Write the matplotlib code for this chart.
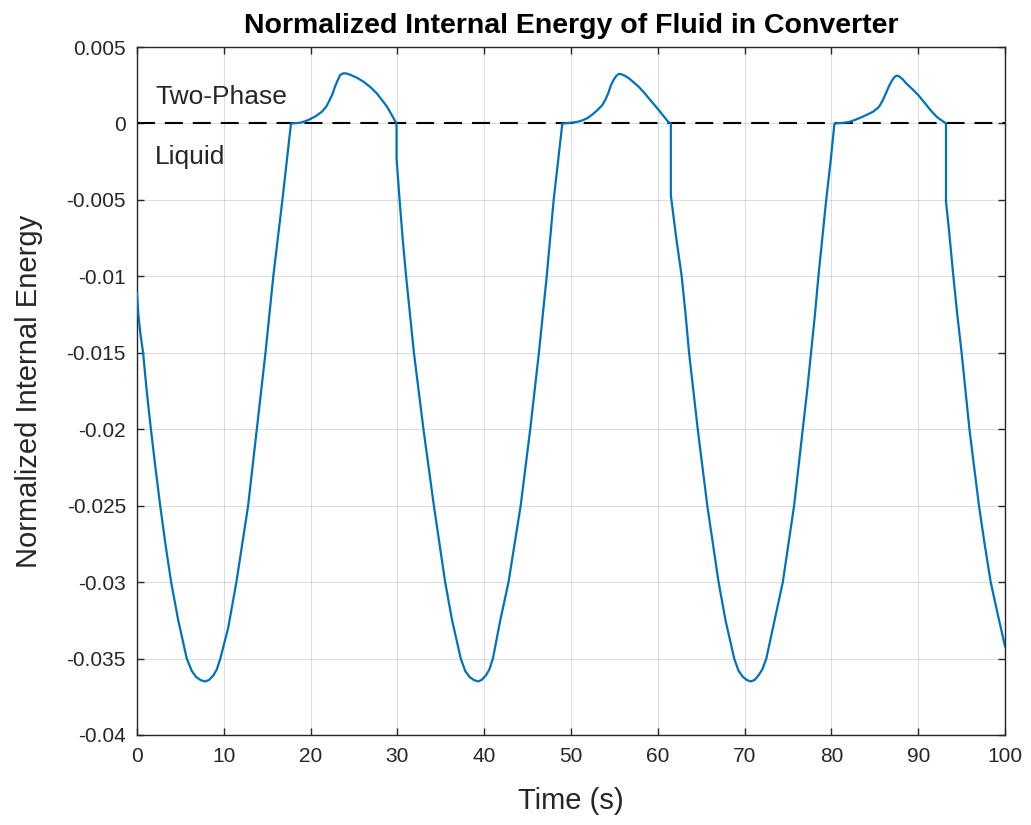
import matplotlib
matplotlib.use('Agg')
from matplotlib import pyplot as plt

plt.rcParams['font.family'] = ['Liberation Sans', 'DejaVu Sans']

# --------------- values ---------------

# time (s), written phase by phase
time_s = [
    # liquid, first cycle
    0.0, 0.15, 0.4, 0.7, 1.1, 1.6, 2.1, 2.67, 3.27, 3.93, 4.75, 5.73, 6.3, 6.8,
    7.3, 7.82, 8.3, 8.8, 9.2, 9.6, 10.5, 11.45, 12.1, 12.8, 13.3, 13.8, 14.8,
    15.7, 16.75,
    # two-phase
    17.74, 18.3, 18.8, 19.4, 19.9, 20.6, 21.3, 21.8, 22.2, 22.5, 22.8, 23.1,
    23.4, 23.7, 23.96, 24.2, 24.5, 25.3, 26.1, 26.9, 27.6, 28.2, 28.8, 29.3,
    29.9,
    # liquid, second cycle
    29.9, 30.25, 30.6, 31.0, 31.45, 31.9, 32.45, 33.0, 33.6, 34.2, 34.85, 35.5,
    36.3, 37.3, 37.8, 38.3, 38.8, 39.27, 39.7, 40.2, 40.6, 41.0, 41.85, 42.8,
    43.5, 44.2, 44.75, 45.3, 45.8, 46.3, 46.75, 47.2, 47.6, 48.0, 48.5,
    # two-phase
    49.0, 49.6, 50.0, 50.7, 51.3, 51.9, 52.4, 53.0, 53.6, 54.0, 54.3, 54.6,
    54.9, 55.2, 55.5, 55.8, 56.2, 56.65, 57.2, 57.8, 58.4, 58.96, 59.5, 60.1,
    60.7, 61.2, 61.5,
    # liquid, third cycle
    61.5, 62.1, 62.75, 63.2, 63.6, 64.1, 64.6, 65.15, 65.7, 66.35, 67.0, 67.8,
    68.8, 69.3, 69.8, 70.25, 70.7, 71.15, 71.6, 72.05, 72.5, 73.45, 74.4, 75.05,
    75.7, 76.2, 76.7, 77.2, 77.65, 78.1, 78.5, 78.95, 79.4, 79.9,
    # two-phase
    80.35, 81.2, 82.05, 82.8, 83.6, 84.2, 84.8, 85.2, 85.5, 85.9, 86.3, 86.6,
    86.9, 87.2, 87.5, 87.8, 88.2, 88.6, 89.3, 90.0, 90.7, 91.4, 92.2, 93.2,
    # liquid, fourth cycle
    93.2, 93.55, 94.05, 94.5, 95.0, 95.45, 95.9, 96.45, 97.0, 97.65, 98.35,
    99.2, 100.0,
]

# normalized internal energy at those times
energy = [
    -0.0111, -0.0125, -0.0138, -0.0150, -0.0174, -0.0200, -0.0224, -0.0250,
    -0.0275, -0.0300, -0.0325, -0.0350, -0.0358, -0.0362, -0.0364, -0.0365,
    -0.0364, -0.0361, -0.0357, -0.0350, -0.0330, -0.0300, -0.0276, -0.0250,
    -0.0225, -0.0200, -0.0150, -0.0100, -0.0050,
    0.0, 0.00002, 0.00005, 0.00015, 0.00027, 0.00048, 0.00077, 0.0011,
    0.00154, 0.0019, 0.0024, 0.0028, 0.00317, 0.00327, 0.00328, 0.00326,
    0.0032, 0.0030, 0.00273, 0.00237, 0.00198, 0.00155, 0.0011, 0.0006, 0.0,
    -0.0023, -0.0050, -0.0075, -0.0100, -0.0125, -0.0150, -0.0175, -0.0200,
    -0.0225, -0.0250, -0.0275, -0.0300, -0.0325, -0.0350, -0.0358, -0.0362,
    -0.0364, -0.0365, -0.0364, -0.0361, -0.0357, -0.0350, -0.0325, -0.0300,
    -0.0275, -0.0250, -0.0225, -0.0200, -0.0175, -0.0150, -0.0125, -0.0100,
    -0.0075, -0.0050, -0.0025,
    0.0, 0.00002, 0.00005, 0.0001, 0.0002, 0.00035, 0.00056, 0.00085, 0.0012,
    0.0016, 0.0020, 0.0025, 0.00285, 0.0031, 0.00324, 0.00322, 0.00312,
    0.00296, 0.0027, 0.0024, 0.00203, 0.00165, 0.00128, 0.00088, 0.00045,
    0.0001, 0.0,
    -0.0047, -0.0074, -0.0100, -0.0125, -0.0150, -0.0175, -0.0200, -0.0225,
    -0.0250, -0.0275, -0.0300, -0.0325, -0.0350, -0.0358, -0.0362, -0.0364,
    -0.0365, -0.0364, -0.0361, -0.0357, -0.0350, -0.0325, -0.0300, -0.0275,
    -0.0250, -0.0225, -0.0200, -0.0175, -0.0150, -0.0125, -0.0100, -0.0075,
    -0.0050, -0.0025,
    0.0, 0.00003, 0.0001, 0.00025, 0.00044, 0.0006, 0.00077, 0.00095, 0.0011,
    0.0015, 0.0020, 0.0024, 0.00273, 0.0030, 0.00313, 0.00308, 0.0029,
    0.00263, 0.00226, 0.00186, 0.00138, 0.00088, 0.0004, 0.0,
    -0.0051, -0.0070, -0.0100, -0.0125, -0.0150, -0.0175, -0.0200, -0.0225,
    -0.0250, -0.0275, -0.0300, -0.0322, -0.0342,
]

x_ticks = [0, 10, 20, 30, 40, 50, 60, 70, 80, 90, 100]
y_ticks = [0.005, 0, -0.005, -0.01, -0.015, -0.02, -0.025, -0.03, -0.035, -0.04]
y_tick_labels = ['0.005', '0', '-0.005', '-0.01', '-0.015', '-0.02', '-0.025',
                 '-0.03', '-0.035', '-0.04']

assert len(time_s) == len(energy)

# --------------- figure ---------------

fig = plt.figure(figsize=(10.31, 8.25), dpi=100)
ax = fig.add_axes([0.1329, 0.1091, 0.8419, 0.8339])

dark = '#262626'

ax.axhline(0, color='black', linewidth=1.5, dashes=(8.6, 4.8), zorder=2)
ax.plot(time_s, energy, color='#0072BD', linewidth=1.6, zorder=3)

ax.text(2.1, 0.0017, 'Two-Phase', fontsize=19, color=dark, va='center', ha='left')
ax.text(2.1, -0.0022, 'Liquid', fontsize=19, color=dark, va='center', ha='left')

ax.set_xlim(0, 100)
ax.set_ylim(-0.04, 0.005)
ax.set_xticks(x_ticks)
ax.set_yticks(y_ticks)
ax.set_yticklabels(y_tick_labels)

ax.grid(True, color='#262626', alpha=0.15, linewidth=0.8)
ax.tick_params(direction='in', top=True, right=True, labelsize=15,
               colors=dark, length=5, width=1)
ax.tick_params(axis='x', pad=9)
ax.tick_params(axis='y', pad=8)
for spine in ax.spines.values():
    spine.set_color(dark)
    spine.set_linewidth(1)

ax.set_xlabel('Time (s)', fontsize=21, color=dark, labelpad=15)
ax.set_ylabel('Normalized Internal Energy', fontsize=21, color=dark, labelpad=17)
ax.set_title('Normalized Internal Energy of Fluid in Converter', fontsize=20.5,
             fontweight='bold', color='black', pad=10)

plt.savefig('out.png', dpi=100)
